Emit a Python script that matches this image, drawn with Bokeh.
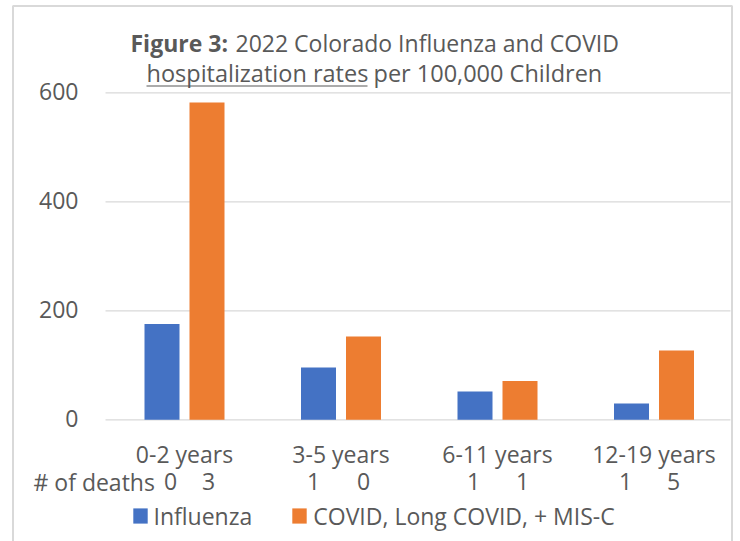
from bokeh.plotting import figure
from bokeh.models import (Range1d, ColumnDataSource, Legend, LegendItem)
from bokeh.core.properties import value
from bokeh.embed import file_html
from bokeh.resources import INLINE

# ---- data ----
categories = ["0-2 years", "3-5 years", "6-11 years", "12-19 years"]
influenza = [176, 96, 52, 30]
covid = [582, 153, 71, 127]
flu_deaths = ["0", "1", "1", "1"]
covid_deaths = ["3", "0", "1", "5"]
y_ticks = [0, 200, 400, 600]
y_tick_labels = ["0", "200", "400", "600"]
series_names = ["Influenza", "COVID, Long COVID, + MIS-C"]
title_bold = "Figure 3:"
title_rest = "2022 Colorado Influenza and COVID"
title_under = "hospitalization rates"
title_tail = "per 100,000 Children"
deaths_header = "# of deaths"

# ---- style ----
FONT = value("Open Sans")
TEXT = "#595959"
GRID = "#D9D9D9"
BORDER = "#D9D9D9"
BLUE = "#4472C4"
ORANGE = "#ED7D31"
FS = "23px"
FS_T1 = "23px"
FS_T2 = "23.5px"
TXT_SHIFT = -9          # baseline correction (px)
# small horizontal nudges (px) of the hand-placed death counts
flu_nudge_px = [8.5, -5, -1.5, -6]
cov_nudge_px = [1.5, 0, 2.5, -3]

W, H = 740, 541
PA_L, PA_R = 105, 730
CAT_PX = 156.5
CAT0_PX = 184
Y0_PX, Y600_PX = 419.3, 92.3
PX_PER_UNIT = (Y0_PX - Y600_PX) / 600.0

x_start = 0.5 - CAT0_PX / CAT_PX
x_end = x_start + W / CAT_PX
y_end = 600 + Y600_PX / PX_PER_UNIT
y_start = -(H - Y0_PX) / PX_PER_UNIT

p = figure(width=W, height=H,
           x_range=Range1d(x_start, x_end), y_range=Range1d(y_start, y_end),
           x_axis_location=None, y_axis_location=None,
           output_backend="svg", toolbar_location=None,
           min_border=0, background_fill_color="white", border_fill_color="white")
p.extra_x_ranges = {"px": Range1d(0, W)}
p.extra_y_ranges = {"px": Range1d(H, 0)}
p.outline_line_color = None
p.grid.visible = False

idx = list(range(len(categories)))
centers = [i + 0.5 for i in idx]
OFF = 22.5 / CAT_PX
BW = 35 / CAT_PX

src = ColumnDataSource(dict(
    cat=categories, xc=centers,
    xf=[c - OFF for c in centers], xv=[c + OFF for c in centers],
    flu=influenza, cov=covid, flu_d=flu_deaths, cov_d=covid_deaths,
    nf=flu_nudge_px, nc=cov_nudge_px))

# chart border
p.multi_line(xs=[[12.5, 12.5, 731.5, 731.5]], ys=[[H, 5.5, 5.5, H]],
             x_range_name="px", y_range_name="px",
             line_color=BORDER, line_width=2)

# gridlines
px_x0 = x_start + PA_L / CAT_PX
px_x1 = x_start + PA_R / CAT_PX
p.segment(x0=px_x0, x1=px_x1, y0=y_ticks, y1=y_ticks, line_color=GRID, line_width=1.2)

# bars
r1 = p.vbar(x="xf", top="flu", width=BW, source=src, fill_color=BLUE, line_color=None)
r2 = p.vbar(x="xv", top="cov", width=BW, source=src, fill_color=ORANGE, line_color=None)

common = dict(text_font=FONT, text_font_size=FS, text_color=TEXT,
              text_baseline="alphabetic")

# y tick labels
p.text(x=[x_start + 78 / CAT_PX] * len(y_ticks), y=y_ticks, text=y_tick_labels,
       text_align="right", y_offset=7.7 + TXT_SHIFT, **common)

# category labels
p.text(x="xc", y=462.3 + TXT_SHIFT, text="cat", source=src, y_range_name="px",
       text_align="center", **common)

# deaths row
p.text(x="xf", y=490 + TXT_SHIFT, text="flu_d", source=src, y_range_name="px",
       text_align="center", x_offset="nf", **common)
p.text(x="xv", y=490 + TXT_SHIFT, text="cov_d", source=src, y_range_name="px",
       text_align="center", x_offset="nc", **common)
p.text(x=[33], y=[490 + TXT_SHIFT], text=[deaths_header], x_range_name="px",
       y_range_name="px", text_align="left", **common)

# title
p.text(x=[130], y=[51.7 + TXT_SHIFT], text=[title_bold], x_range_name="px",
       y_range_name="px", text_align="left", text_font_style="bold",
       **dict(common, text_font_size=FS_T1))
p.text(x=[235], y=[51.7 + TXT_SHIFT], text=[title_rest], x_range_name="px",
       y_range_name="px", text_align="left", **dict(common, text_font_size=FS_T1))
p.text(x=[146], y=[81.7 + TXT_SHIFT], text=[title_under], x_range_name="px",
       y_range_name="px", text_align="left", **dict(common, text_font_size=FS_T2))
p.text(x=[373], y=[81.7 + TXT_SHIFT], text=[title_tail], x_range_name="px",
       y_range_name="px", text_align="left", **dict(common, text_font_size=FS_T2))
p.segment(x0=[146], x1=[367], y0=[85.5], y1=[85.5], x_range_name="px",
          y_range_name="px", line_color=TEXT, line_width=1.2)

# legend
legend = Legend(items=[LegendItem(label=series_names[0], renderers=[r1]),
                       LegendItem(label=series_names[1], renderers=[r2])],
                orientation="horizontal", location=(130.5, 9.3),
                glyph_width=18, glyph_height=19, label_height=19,
                label_standoff=5, spacing=38, padding=0, margin=0,
                border_line_color=None, background_fill_alpha=0,
                label_text_font="Open Sans", label_text_font_size=FS,
                label_text_color=TEXT)
p.add_layout(legend, "center")

open("out.html", "w").write(file_html(p, INLINE))
